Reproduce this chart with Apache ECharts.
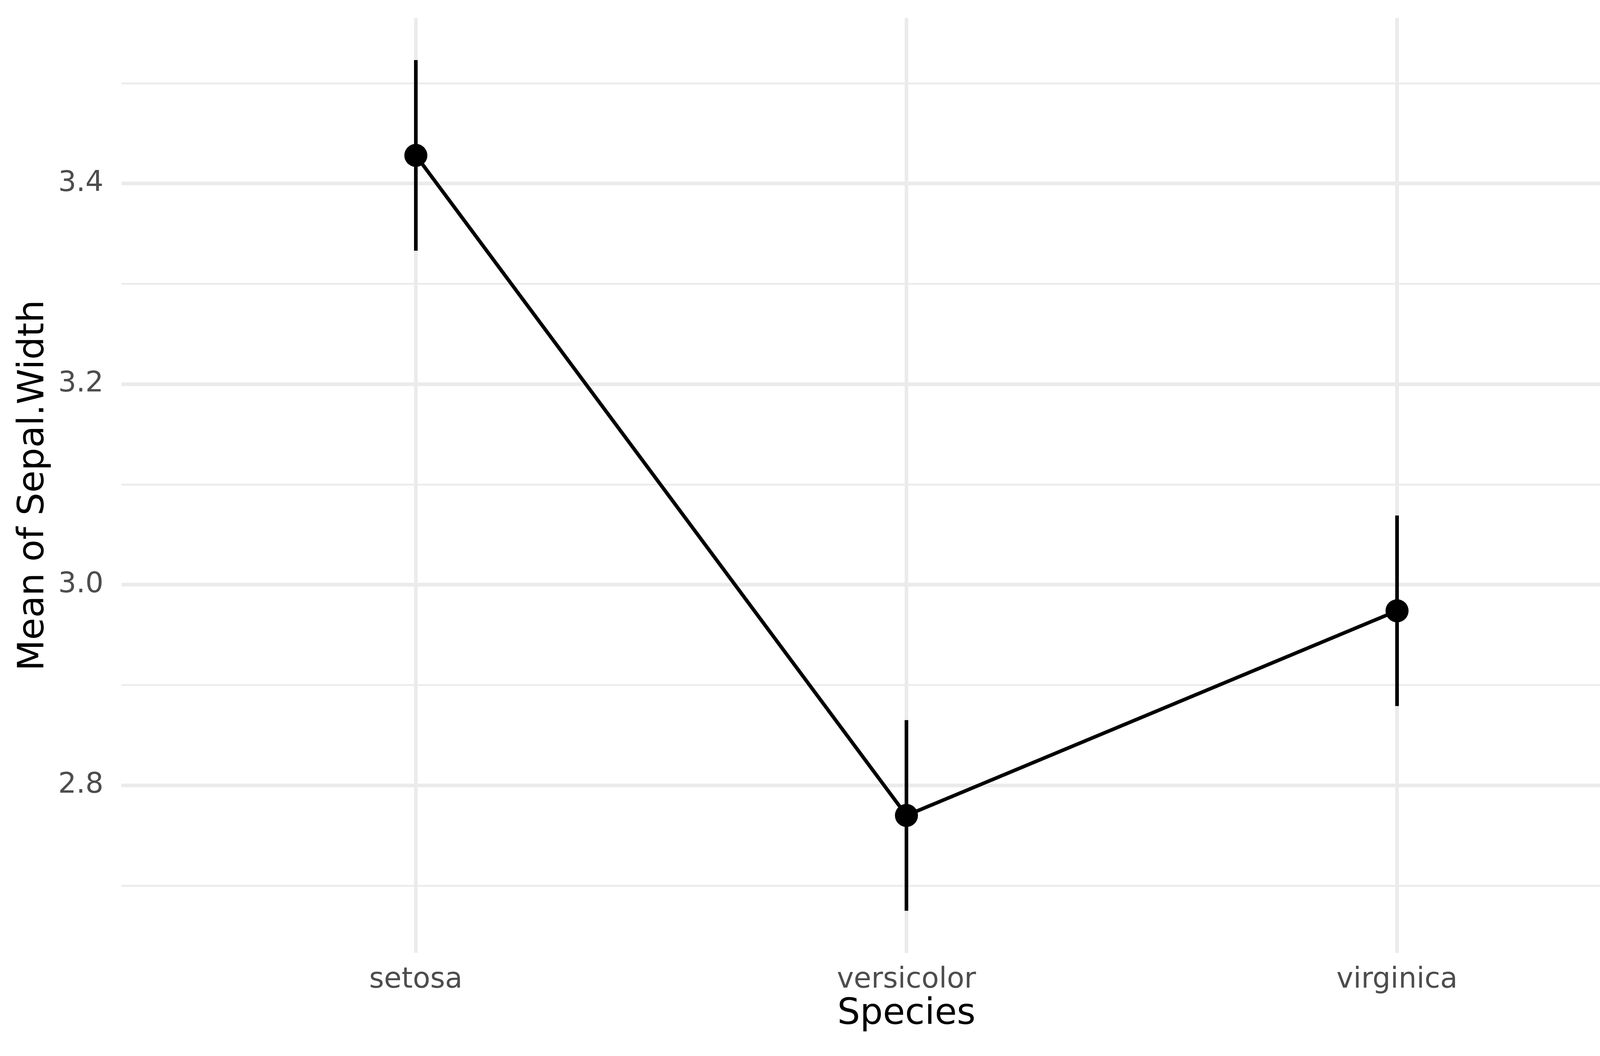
<!DOCTYPE html>
<html>
<head>
<meta charset="utf-8">
<script src="https://cdn.jsdelivr.net/npm/echarts@6/dist/echarts.min.js"></script>
<style>
html,body{margin:0;padding:0;background:#fff;}
#chart{width:4375px;height:2703px;}
</style>
</head>
<body>
<div id="chart"></div>
<script>
const species = ['setosa', 'versicolor', 'virginica'];
const means = [3.428, 2.770, 2.974];
const lower = [3.333, 2.675, 2.879];
const upper = [3.523, 2.865, 3.069];
const yMajorTicks = [2.8, 3.0, 3.2, 3.4];
const yMinorTicks = [2.7, 2.9, 3.1, 3.3, 3.5];
const xTicks = [1, 2, 3];

const FONT = 'DejaVu Sans';
const GRID = '#EBEBEB';

const pointData = species.map((s, i) => [i + 1, means[i]]);
const barData = species.map((s, i) => [i + 1, lower[i], upper[i]]);

const chart = echarts.init(document.getElementById('chart'), null, {renderer: 'canvas'});
chart.setOption({
  animation: false,
  backgroundColor: '#ffffff',
  grid: {left: 311, right: 45, top: 46, bottom: 264, containLabel: false},
  xAxis: {
    type: 'value', min: 0.4, max: 3.6,
    name: 'Species', nameLocation: 'middle', nameGap: 105,
    nameTextStyle: {fontFamily: FONT, fontSize: 92, color: '#000000'},
    axisLine: {show: false},
    axisTick: {show: false, customValues: xTicks},
    axisLabel: {
      customValues: xTicks, margin: 34,
      fontFamily: FONT, fontSize: 73, color: '#4D4D4D',
      formatter: v => species[Math.round(v) - 1] || ''
    },
    splitLine: {show: true, lineStyle: {color: GRID, width: 9.3}}
  },
  yAxis: [{
    type: 'value', min: 2.633, max: 3.565,
    name: 'Mean of Sepal.Width', nameLocation: 'middle', nameGap: 178, nameRotate: 90,
    nameTextStyle: {fontFamily: FONT, fontSize: 92, color: '#000000'},
    axisLine: {show: false},
    axisTick: {show: false, customValues: yMajorTicks},
    axisLabel: {
      customValues: yMajorTicks, margin: 46,
      fontFamily: FONT, fontSize: 73, color: '#4D4D4D',
      formatter: v => v.toFixed(1)
    },
    splitLine: {show: true, lineStyle: {color: GRID, width: 9.3}}
  }, {
    type: 'value', min: 2.633, max: 3.565, position: 'left',
    axisLine: {show: false},
    axisTick: {show: false, customValues: yMinorTicks},
    axisLabel: {show: false, customValues: yMinorTicks},
    splitLine: {show: true, lineStyle: {color: GRID, width: 4.7}}
  }],
  series: [{
    type: 'custom',
    name: 'ci',
    xAxisIndex: 0, yAxisIndex: 0,
    data: barData,
    z: 3,
    renderItem: function (params, api) {
      const x = api.value(0);
      const p1 = api.coord([x, api.value(1)]);
      const p2 = api.coord([x, api.value(2)]);
      return {
        type: 'line',
        shape: {x1: p1[0], y1: p1[1], x2: p2[0], y2: p2[1]},
        style: {stroke: '#000000', lineWidth: 9.3}
      };
    }
  }, {
    type: 'line',
    name: 'mean',
    xAxisIndex: 0, yAxisIndex: 0,
    data: pointData,
    z: 4,
    symbol: 'circle', symbolSize: 59,
    showAllSymbol: true,
    lineStyle: {color: '#000000', width: 9.3},
    itemStyle: {color: '#000000'}
  }]
});
</script>
</body>
</html>
